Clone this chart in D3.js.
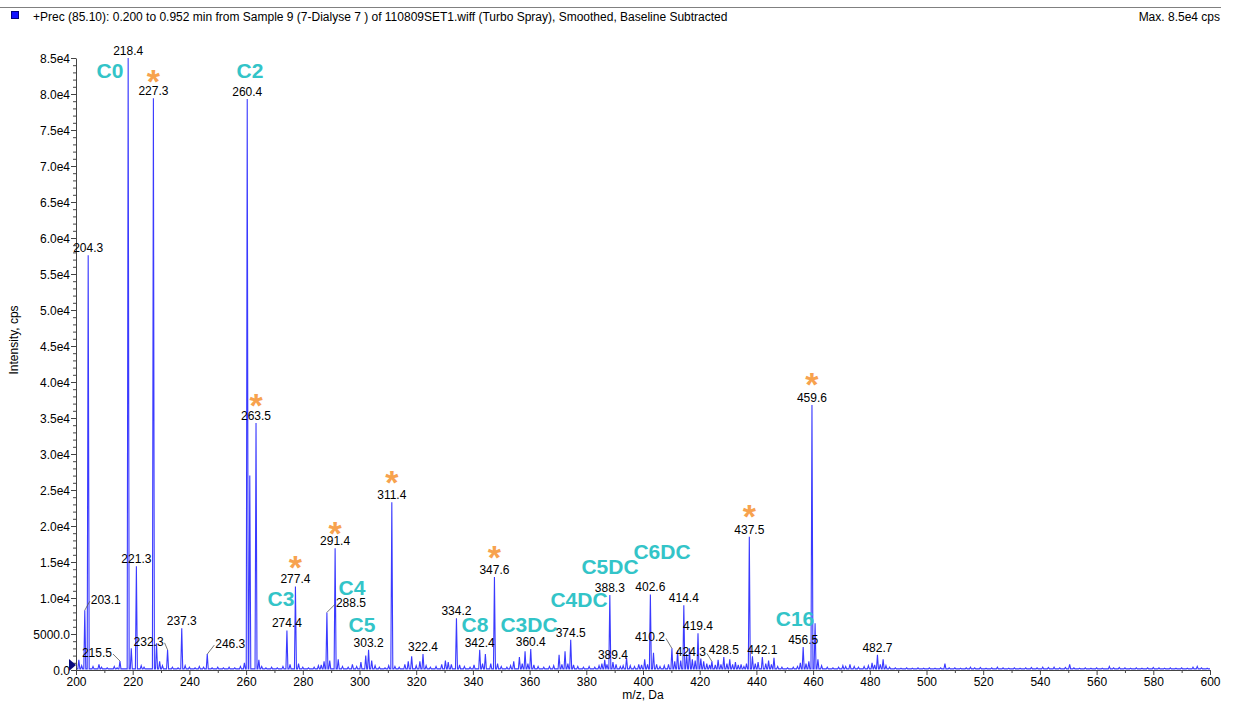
<!DOCTYPE html>
<html><head><meta charset="utf-8">
<script src="https://cdn.jsdelivr.net/npm/d3@7/dist/d3.min.js"></script>
<style>body{margin:0;background:#fff;}svg{display:block;font-family:Arial,"Liberation Sans",sans-serif;}</style>
</head><body><svg id="c" width="1233" height="702"></svg>
<script>
// ---- DATA ----
const titleText = "+Prec (85.10): 0.200 to 0.952 min from Sample 9 (7-Dialyse 7 ) of 110809SET1.wiff (Turbo Spray), Smoothed, Baseline Subtracted";
const maxText = "Max. 8.5e4 cps";
// labelled / main peaks
const peakMz  = [203.1, 204.3, 215.5, 218.4, 219.5, 221.3, 227.3, 228.4, 232.3, 237.3, 246.3, 260.4, 261.3, 263.5, 274.4, 277.4, 288.5, 291.4, 303.2, 311.4, 322.4, 334.2, 342.4, 347.6, 360.4, 374.5, 388.3, 389.4, 402.6, 410.2, 414.4, 419.4, 424.3, 428.5, 437.5, 442.1, 456.5, 459.6, 482.7];
const peakInt = [8300, 57600, 1250, 85000, 3000, 14400, 79400, 3700, 2800, 5800, 2200, 79300, 27000, 34300, 5500, 11600, 8000, 16900, 2800, 23300, 2200, 7200, 2800, 12900, 2900, 4200, 10400, 1100, 10500, 3000, 9000, 5100, 1200, 1800, 18500, 1800, 3200, 36800, 2100];
// small peaks / noise
const minorMz  = [201.0,202.0,206.0,208.1,209.0,211.0,213.5,214.5,223.0,224.0,229.5,230.5,234.0,236.0,238.5,240.0,242.0,243.5,245.0,248.0,250.0,252.0,254.0,256.0,258.0,259.4,264.5,265.5,267.0,269.0,271.0,273.0,275.5,278.5,280.0,282.0,284.0,285.5,286.5,287.5,289.5,292.5,294.0,296.0,297.5,299.0,300.5,302.2,304.3,305.5,307.0,309.0,310.3,312.5,314.0,316.0,317.2,318.4,320.0,321.3,323.5,325.0,327.0,329.0,330.3,331.3,332.4,335.3,337.0,339.0,340.4,343.4,344.4,346.3,348.7,350.0,352.0,353.3,354.4,356.4,357.4,358.4,359.4,361.5,363.0,365.0,367.0,368.5,370.4,371.4,372.5,373.5,375.5,377.0,379.0,381.0,383.0,384.5,385.5,386.5,387.3,390.5,392.0,393.0,394.2,395.5,397.0,398.5,399.5,400.6,401.6,403.7,404.8,406.0,407.5,409.0,411.2,412.2,413.3,415.4,416.4,417.4,418.4,420.4,421.4,422.5,423.5,425.5,426.5,427.5,429.6,430.6,431.6,432.6,433.6,434.6,435.6,436.5,438.6,439.6,440.6,443.3,444.3,445.3,446.2,447.5,449.0,451.0,453.0,454.5,455.5,457.5,458.5,460.7,461.7,463.0,465.0,467.0,469.0,470.5,471.5,473.0,474.5,476.0,478.0,479.5,480.8,481.7,483.7,484.7,485.7,487.0,489.0,491.0,493.0,495.0,497.0,499.0,501.0,503.0,505.0,506.5,508.0,510.0,512.0,514.0,515.5,517.0,519.0,521.0,523.0,525.0,527.0,529.0,531.0,533.0,535.0,537.0,539.0,541.0,543.0,545.0,547.0,549.0,550.5,552.0,554.0,556.0,558.0,560.0,562.0,564.5,566.0,568.0,570.0,572.0,574.0,576.0,578.0,580.0,582.0,584.0,586.0,588.0,590.0,592.0,594.0,595.5,597.0,599.0];
const minorInt = [1400,600,500,800,400,300,500,300,600,400,1200,600,400,300,600,400,300,500,400,300,400,300,400,300,500,1000,1400,500,300,400,300,500,800,900,400,300,400,600,700,1200,1300,1500,500,400,800,500,1100,2000,1300,600,400,300,600,500,400,800,1200,1900,600,1200,600,400,500,800,1300,1100,800,700,500,400,700,900,2200,900,900,500,400,600,1200,1800,900,2600,900,700,500,400,500,600,2100,800,2600,900,700,500,400,500,400,600,900,1400,800,800,500,600,1700,600,500,800,700,1500,800,2400,800,500,600,800,1200,2700,1300,2200,3000,1500,1300,1600,1200,900,700,700,1400,800,900,1500,800,1100,700,800,500,900,1900,900,1100,900,1300,800,1700,500,400,300,400,500,1000,900,1200,6500,1500,600,400,300,400,600,500,800,500,400,500,600,1000,700,800,1500,600,400,300,250,300,250,300,250,300,250,300,900,300,300,250,300,400,300,350,250,300,400,300,250,300,250,300,350,300,400,350,400,300,350,800,300,250,300,250,300,250,500,300,350,300,250,300,250,300,350,300,250,300,250,300,250,400,500,300,250];
// peak labels
const labelMz = [204.3,203.1,215.5,218.4,221.3,227.3,232.3,237.3,246.3,260.4,263.5,274.4,277.4,288.5,291.4,303.2,311.4,322.4,334.2,342.4,347.6,360.4,374.5,388.3,389.4,402.6,410.2,414.4,419.4,424.3,428.5,437.5,442.1,456.5,459.6,482.7];
// compound annotations
const compNames = ["C0","C2","C3","C4","C5","C8","C3DC","C4DC","C5DC","C6DC","C16"];
const starMz = [227.3, 263.5, 277.4, 291.4, 311.4, 347.6, 437.5, 459.6];
const yTicks = d3.range(0, 85001, 5000);
const xTicks = d3.range(200, 601, 20);

// ---- LAYOUT (positions only) ----
const X0 = 76, X1 = 1210, Y0 = 670, Y1 = 58;
// label offsets: [dx, dy] relative to peak top, leader flag
const labelShift = {
  "203.1":[21,-6,1], "215.5":[-23,-4,1], "232.3":[-19,-4,1], "246.3":[23,-6,1],
  "288.5":[24,-5,1], "410.2":[-22,-7,1], "424.3":[-21,-5,1], "389.4":[0,-4,0]
};
const compPos = {"C0":[110,78],"C2":[250,78],"C3":[281,606],"C4":[352,595],"C5":[362,632],"C8":[475,632],
  "C3DC":[529,632],"C4DC":[579,607],"C5DC":[610,574],"C6DC":[662,559],"C16":[795,626]};
// vertical offset of asterisk centre from peak top
const starDy = {"227.3":-25,"263.5":-25,"277.4":-27,"291.4":-23,"311.4":-28,"347.6":-28,"437.5":-28,"459.6":-28};

const svg = d3.select("#c");
const x = d3.scaleLinear().domain([200, 600]).range([X0, X1]);
const y = d3.scaleLinear().domain([0, 85000]).range([Y0, Y1]);

// header
svg.append("line").attr("x1",0).attr("x2",1221).attr("y1",7.5).attr("y2",7.5).attr("stroke","#808080").attr("stroke-width",1);
svg.append("rect").attr("x",11.5).attr("y",11.5).attr("width",7).attr("height",7).attr("fill","#1010ff").attr("stroke","#000080");
svg.append("text").attr("x",33).attr("y",21).attr("font-size",12).attr("fill","#000").text(titleText);
svg.append("text").attr("x",1220).attr("y",21).attr("font-size",12).attr("text-anchor","end").attr("fill","#000").text(maxText);

// spectrum line
const all = peakMz.map((m,i)=>({m, v:peakInt[i]})).concat(minorMz.map((m,i)=>({m, v:minorInt[i]})));
all.sort((a,b)=>a.m-b.m);
const base = 150, hw = 0.35;
const pts = [[200, base]];
all.forEach(p=>{ pts.push([p.m-hw, base]); pts.push([p.m, p.v]); pts.push([p.m+hw, base]); });
pts.push([600, base]);
const line = d3.line().x(d=>x(d[0])).y(d=>y(d[1]));
svg.append("path").attr("d", line(pts)).attr("fill","none").attr("stroke","#3a3aff").attr("stroke-width",1.1).attr("stroke-linejoin","miter");

// axes
const ya = svg.append("g").attr("transform",`translate(${X0},0)`)
  .call(d3.axisLeft(y).tickValues(yTicks).tickSize(5).tickSizeOuter(0)
    .tickFormat(v=> v===0 ? "0.0" : v===5000 ? "5000.0" : (v/1e4).toFixed(1)+"e4"));
ya.selectAll("text").attr("font-size",12).attr("font-family","Arial, 'Liberation Sans', sans-serif").attr("fill","#000").attr("dy","0.35em").attr("x",-6);
svg.append("g").attr("transform",`translate(${X0},0)`)
  .call(d3.axisLeft(y).tickValues(d3.range(0,85001,1000).filter(v=>v%5000)).tickSize(3).tickFormat("")).select(".domain").remove();
const xa = svg.append("g").attr("transform",`translate(0,${Y0})`)
  .call(d3.axisBottom(x).tickValues(xTicks).tickSize(5).tickSizeOuter(0).tickFormat(d3.format("d")));
xa.selectAll("text").attr("font-size",12).attr("font-family","Arial, 'Liberation Sans', sans-serif").attr("fill","#000").attr("y",7);
svg.append("g").attr("transform",`translate(0,${Y0})`)
  .call(d3.axisBottom(x).tickValues(d3.range(210,600,20)).tickSize(3).tickFormat("")).select(".domain").remove();
svg.selectAll(".domain, .tick line").attr("stroke","#444");

svg.append("text").attr("x",643).attr("y",699).attr("text-anchor","middle").attr("font-size",12).text("m/z, Da");
svg.append("text").attr("transform","translate(18,340) rotate(-90)").attr("text-anchor","middle").attr("font-size",12).text("Intensity, cps");
svg.append("path").attr("d",`M${X0-7},${Y0-11}L${X0},${Y0-5}L${X0-7},${Y0+1}Z`).attr("fill","#0a0a80");

// peak labels
labelMz.forEach(m=>{
  const i = peakMz.indexOf(m);
  const px = x(m), py = y(peakInt[i]);
  const s = labelShift[m.toFixed(1)];
  if (s && s[2]) {
    const tx = px + s[0], ty = py + s[1];
    const ex = s[0] > 0 ? tx - 16 : tx + 16;
    svg.append("line").attr("x1",px).attr("y1",py).attr("x2",ex).attr("y2",ty-3).attr("stroke","#555").attr("stroke-width",0.8);
    svg.append("text").attr("x",tx).attr("y",ty).attr("text-anchor","middle").attr("font-size",12).text(m.toFixed(1));
  } else {
    svg.append("text").attr("x",px).attr("y",py-3).attr("text-anchor","middle").attr("font-size",12).text(m.toFixed(1));
  }
});

// compound labels
compNames.forEach(n=>{
  const p = compPos[n];
  svg.append("text").attr("x",p[0]).attr("y",p[1]).attr("text-anchor","middle").attr("font-size",21).attr("font-weight","bold").attr("fill","#33c4c8").text(n);
});
// asterisks (glyph centre is ~0.57em above baseline)
const starSize = 34;
starMz.forEach(m=>{
  const i = peakMz.indexOf(m);
  svg.append("text").attr("x",x(m)).attr("y",y(peakInt[i]) + starDy[m.toFixed(1)] + starSize*0.57)
    .attr("text-anchor","middle").attr("font-size",starSize).attr("font-weight","bold").attr("fill","#f7a24e").text("*");
});
</script></body></html>
